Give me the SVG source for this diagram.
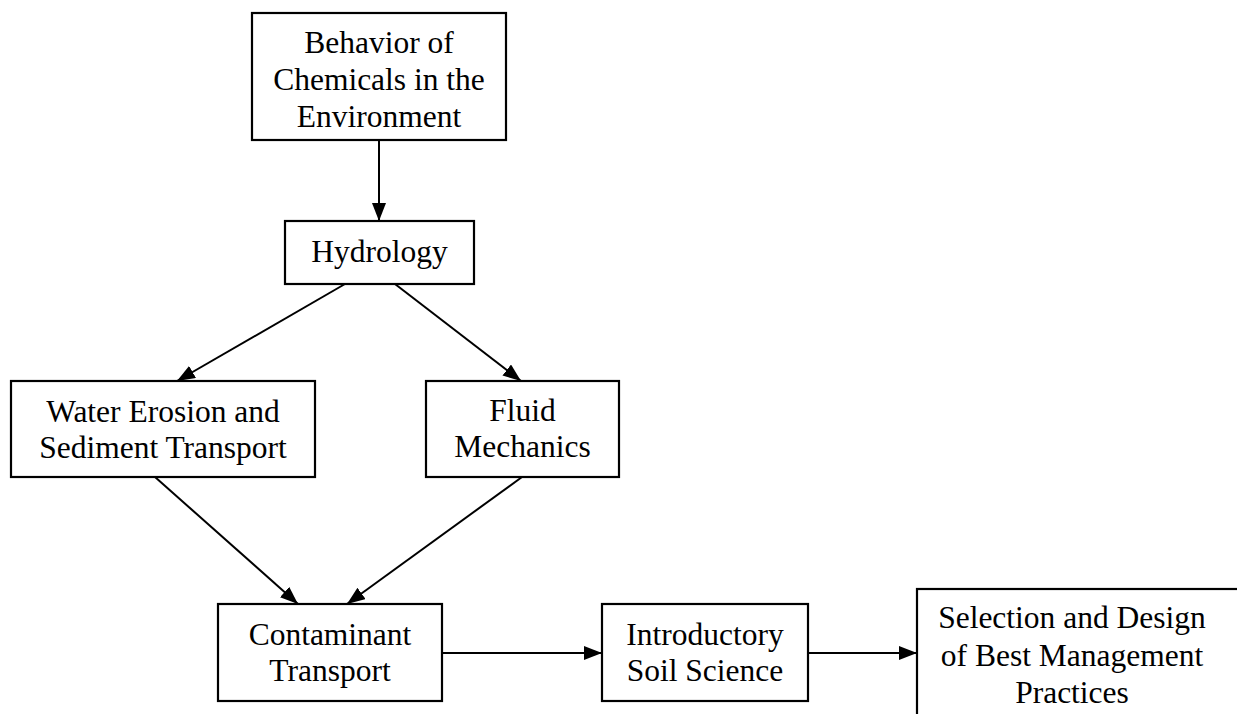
<svg xmlns="http://www.w3.org/2000/svg" width="1237" height="714" viewBox="0 0 1237 714">
<style>
.box{fill:#fff;stroke:#000;stroke-width:2.2}
.t{font-family:"Liberation Serif","Times New Roman",serif;font-size:31.5px;fill:#000;text-anchor:middle}
.c{stroke:#000;stroke-width:2;fill:none;marker-end:url(#ah)}
</style>
<defs>
<marker id="ah" viewBox="0 0 18 14" refX="18" refY="7" markerWidth="18" markerHeight="14" markerUnits="userSpaceOnUse" orient="auto">
<path d="M0,0 L18,7 L0,14 Z" fill="#000"/>
</marker>
</defs>
<rect width="1237" height="714" fill="#fff"/>
<g id="connectors">
<line class="c" x1="379" y1="140" x2="379" y2="221"/>
<line class="c" x1="345" y1="284" x2="177" y2="381"/>
<line class="c" x1="395" y1="284" x2="521" y2="381"/>
<line class="c" x1="155" y1="477" x2="298" y2="604"/>
<line class="c" x1="522" y1="477" x2="347" y2="604"/>
<line class="c" x1="442" y1="653" x2="602" y2="653"/>
<line class="c" x1="808" y1="653" x2="917" y2="653"/>
</g>
<g id="behavior">
<rect class="box" x="252" y="13" width="254" height="127"/>
<text class="t" x="379" y="53">Behavior of</text>
<text class="t" x="379" y="90">Chemicals in the</text>
<text class="t" x="379" y="127">Environment</text>
</g>
<g id="hydrology">
<rect class="box" x="285" y="221" width="189" height="63"/>
<text class="t" x="379.5" y="262">Hydrology</text>
</g>
<g id="erosion">
<rect class="box" x="11" y="381" width="304" height="96"/>
<text class="t" x="163" y="422">Water Erosion and</text>
<text class="t" x="163" y="458">Sediment Transport</text>
</g>
<g id="fluid">
<rect class="box" x="426" y="381" width="193" height="96"/>
<text class="t" x="522.5" y="421">Fluid</text>
<text class="t" x="522.5" y="457">Mechanics</text>
</g>
<g id="contaminant">
<rect class="box" x="218" y="604" width="224" height="97"/>
<text class="t" x="330" y="645">Contaminant</text>
<text class="t" x="330" y="681">Transport</text>
</g>
<g id="soil">
<rect class="box" x="602" y="604" width="206" height="97"/>
<text class="t" x="705" y="645">Introductory</text>
<text class="t" x="705" y="681">Soil Science</text>
</g>
<g id="bmp">
<rect class="box" x="917" y="589" width="340" height="150"/>
<text class="t" x="1072" y="628">Selection and Design</text>
<text class="t" x="1072" y="666">of Best Management</text>
<text class="t" x="1072" y="703">Practices</text>
</g>
</svg>
